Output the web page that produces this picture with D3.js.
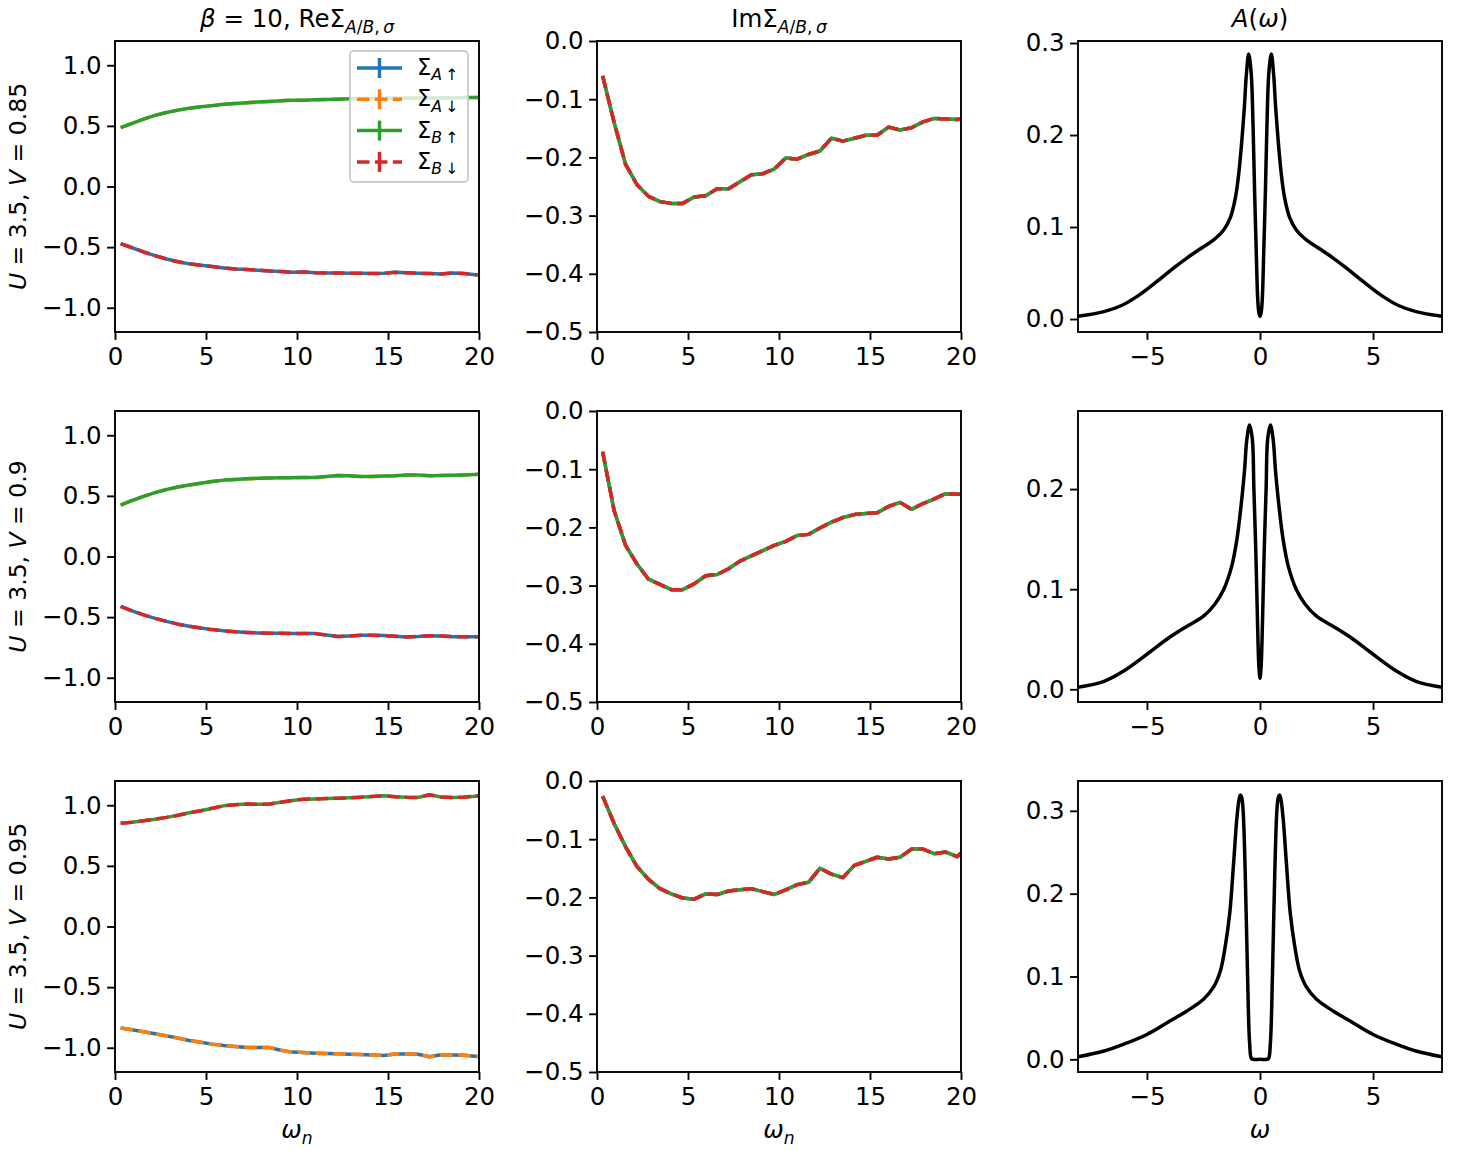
<!DOCTYPE html>
<html>
<head>
<meta charset="utf-8">
<script src="https://cdn.jsdelivr.net/npm/d3@7"></script>
<style>
  body { margin: 0; background: #fff; }
  svg { display: block; font-family: "DejaVu Sans", sans-serif; }
</style>
</head>
<body>
<svg id="fig" width="1457" height="1151"></svg>
<script>
// Matsubara frequencies, beta = 10
const omegaN = [0.31, 0.94, 1.57, 2.20, 2.83, 3.46, 4.08, 4.71, 5.34, 5.97, 6.60, 7.23, 7.85, 8.48, 9.11, 9.74,
  10.37, 11.00, 11.62, 12.25, 12.88, 13.51, 14.14, 14.77, 15.39, 16.02, 16.65, 17.28, 17.91, 18.54, 19.16, 19.79, 20.42]

// Re Sigma, upper and lower branches per row
const reHi1 = [0.485, 0.521, 0.556, 0.587, 0.610, 0.630, 0.645, 0.657, 0.667, 0.678, 0.684, 0.690, 0.697, 0.701, 0.707, 0.712,
  0.711, 0.715, 0.718, 0.720, 0.723, 0.726, 0.724, 0.727, 0.729, 0.727, 0.730, 0.729, 0.731, 0.730, 0.733, 0.734, 0.734]
const reLo1 = [-0.471, -0.505, -0.540, -0.570, -0.598, -0.620, -0.638, -0.650, -0.660, -0.672, -0.680, -0.684, -0.690, -0.697, -0.702, -0.708,
  -0.706, -0.711, -0.713, -0.714, -0.716, -0.715, -0.718, -0.716, -0.708, -0.712, -0.716, -0.718, -0.722, -0.713, -0.718, -0.727, -0.730]
const reHi2 = [0.424, 0.462, 0.496, 0.527, 0.553, 0.573, 0.590, 0.604, 0.618, 0.630, 0.636, 0.641, 0.645, 0.647, 0.649, 0.650,
  0.652, 0.651, 0.660, 0.668, 0.665, 0.660, 0.660, 0.664, 0.666, 0.673, 0.672, 0.665, 0.668, 0.670, 0.673, 0.677, 0.678]
const reLo2 = [-0.411, -0.448, -0.482, -0.510, -0.535, -0.558, -0.575, -0.590, -0.603, -0.613, -0.620, -0.626, -0.630, -0.633, -0.634, -0.635,
  -0.636, -0.636, -0.648, -0.660, -0.655, -0.650, -0.650, -0.652, -0.658, -0.664, -0.660, -0.653, -0.656, -0.661, -0.661, -0.661, -0.665]
const reHi3 = [0.851, 0.860, 0.872, 0.885, 0.900, 0.918, 0.938, 0.955, 0.975, 0.995, 1.004, 1.010, 1.008, 1.010, 1.025, 1.040,
  1.050, 1.052, 1.055, 1.058, 1.062, 1.066, 1.072, 1.079, 1.070, 1.065, 1.064, 1.086, 1.068, 1.064, 1.066, 1.075, 1.090]
const reLo3 = [-0.837, -0.852, -0.868, -0.885, -0.902, -0.920, -0.940, -0.955, -0.970, -0.982, -0.990, -0.997, -0.997, -0.998, -1.020, -1.036,
  -1.040, -1.045, -1.048, -1.050, -1.053, -1.056, -1.060, -1.063, -1.052, -1.052, -1.053, -1.074, -1.058, -1.059, -1.061, -1.070, -1.082]

// Im Sigma (all four components coincide)
const imS1 = [-0.060, -0.140, -0.212, -0.247, -0.267, -0.276, -0.279, -0.279, -0.268, -0.266, -0.254, -0.254, -0.242, -0.230, -0.228, -0.220,
  -0.201, -0.203, -0.195, -0.189, -0.167, -0.172, -0.167, -0.162, -0.162, -0.148, -0.153, -0.149, -0.139, -0.133, -0.134, -0.135, -0.132]
const imS2 = [-0.070, -0.171, -0.231, -0.263, -0.289, -0.298, -0.307, -0.307, -0.297, -0.283, -0.281, -0.271, -0.258, -0.249, -0.240, -0.231,
  -0.224, -0.214, -0.212, -0.201, -0.191, -0.183, -0.178, -0.176, -0.175, -0.164, -0.157, -0.169, -0.159, -0.151, -0.142, -0.143, -0.143]
const imS3 = [-0.026, -0.073, -0.113, -0.147, -0.169, -0.185, -0.194, -0.201, -0.203, -0.194, -0.195, -0.189, -0.187, -0.185, -0.190, -0.195,
  -0.187, -0.178, -0.174, -0.150, -0.160, -0.166, -0.145, -0.138, -0.131, -0.134, -0.131, -0.117, -0.117, -0.125, -0.122, -0.130, -0.112]

// spectral functions A(omega)
const aW1 = [-8.05, -6.9, -6.1, -5.35, -4.6, -3.9, -3.25, -2.6, -2.05, -1.6, -1.3, -1.08, -0.94, -0.8, -0.69, -0.6, -0.5, -0.39, -0.31, -0.24,
  -0.16, -0.1, -0.05, 0, 0.05, 0.1, 0.16, 0.24, 0.31, 0.39, 0.5, 0.6, 0.69, 0.8, 0.94, 1.08, 1.3, 1.6, 2.05, 2.6, 3.25, 3.9, 4.6, 5.35, 6.1, 6.9, 8.05]
const aV1 = [0.003, 0.008, 0.015, 0.026, 0.040, 0.054, 0.066, 0.077, 0.086, 0.097, 0.111, 0.133, 0.158, 0.195, 0.231, 0.267, 0.288, 0.267, 0.213, 0.140,
  0.068, 0.021, 0.007, 0.003, 0.007, 0.021, 0.068, 0.140, 0.213, 0.267, 0.288, 0.267, 0.231, 0.195, 0.158, 0.133, 0.111, 0.097, 0.086, 0.077, 0.066, 0.054, 0.040, 0.026, 0.015, 0.008, 0.003]
const aW2 = [-8.05, -6.9, -6.05, -5.0, -4.0, -3.3, -2.5, -2.0, -1.6, -1.25, -1.02, -0.84, -0.69, -0.58, -0.46, -0.34, -0.27, -0.18, -0.11, -0.05, 0,
  0.05, 0.11, 0.18, 0.27, 0.34, 0.46, 0.58, 0.69, 0.84, 1.02, 1.25, 1.6, 2.0, 2.5, 3.3, 4.0, 5.0, 6.05, 6.9, 8.05]
const aV2 = [0.002, 0.008, 0.018, 0.035, 0.052, 0.062, 0.073, 0.085, 0.100, 0.123, 0.150, 0.183, 0.217, 0.250, 0.264, 0.250, 0.200, 0.133, 0.067, 0.023, 0.011,
  0.023, 0.067, 0.133, 0.200, 0.250, 0.264, 0.250, 0.217, 0.183, 0.150, 0.123, 0.100, 0.085, 0.073, 0.062, 0.052, 0.035, 0.018, 0.008, 0.002]
const aW3 = [-8.05, -6.9, -6.05, -5.0, -4.0, -3.25, -2.5, -2.05, -1.75, -1.54, -1.34, -1.17, -1.02, -0.93, -0.87, -0.81, -0.75, -0.65, -0.55, -0.46, -0.38, -0.3, 0,
  0.3, 0.38, 0.46, 0.55, 0.65, 0.75, 0.81, 0.87, 0.93, 1.02, 1.17, 1.34, 1.54, 1.75, 2.05, 2.5, 3.25, 4.0, 5.0, 6.05, 6.9, 8.05]
const aV3 = [0.003, 0.010, 0.018, 0.030, 0.046, 0.058, 0.0725, 0.0875, 0.107, 0.136, 0.176, 0.236, 0.292, 0.313, 0.319, 0.316, 0.302, 0.221, 0.101, 0.020, 0.001, 0, 0,
  0, 0.001, 0.020, 0.101, 0.221, 0.302, 0.316, 0.319, 0.313, 0.292, 0.236, 0.176, 0.136, 0.107, 0.0875, 0.0725, 0.058, 0.046, 0.030, 0.018, 0.010, 0.003]

// row parameters and series names
const rowU = ['3.5', '3.5', '3.5']
const rowV = ['0.85', '0.9', '0.95']
const seriesSite = ['A', 'A', 'B', 'B']
const seriesSpin = ['\u2191', '\u2193', '\u2191', '\u2193']

// which branch each series follows, per row
const reRows = [
  [reLo1, reHi1, reHi1, reLo1],
  [reLo2, reHi2, reHi2, reLo2],
  [reLo3, reLo3, reHi3, reHi3]
]
const imRows = [imS1, imS2, imS3]
const aRows = [[aW1, aV1], [aW2, aV2], [aW3, aV3]]

// tick values
const reTicks = [-1, -0.5, 0, 0.5, 1]
const imTicks = [-0.5, -0.4, -0.3, -0.2, -0.1, 0]
const aTicks = [[0, 0.1, 0.2, 0.3], [0, 0.1, 0.2], [0, 0.1, 0.2, 0.3]]
const wnTicks = [0, 5, 10, 15, 20]
const wTicks = [-5, 0, 5]

const colors = ['#1f77b4', '#ff7f0e', '#2ca02c', '#d62728']
const dashed = [false, true, false, true]

const colX = [115, 597, 1078], rowY = [41, 411, 781]
const W = 364, H = 291
const FS = 24.5, YL_FS = 23.5, LEG_FS = 22.5, TICK = 7.9, PAD = 7.4, LW = 3.5, DASH = '12.5,5.4'
const aDomains = [[-0.0141, 0.3022], [-0.0127, 0.278], [-0.0153, 0.336]]

const svg = d3.select('#fig')

// mathtext-like label: parts of {t, i (italic), sub}
function mathText(sel, parts, size) {
    const t = sel.append('text').attr('font-size', size)
    let shift = 0
    parts.forEach(p => {
        const s = t.append('tspan').text(p.t)
        if (p.i) s.attr('font-style', 'italic')
        const want = p.sub ? size * 0.24 : 0
        if (p.sub) s.attr('font-size', size * 0.7)
        if (want !== shift) { s.attr('dy', want - shift); shift = want }
    })
    return t
}

function panel(r, c) {
    const g = svg.append('g').attr('transform', `translate(${colX[c]}, ${rowY[r]})`)
    const id = `clip-${r}-${c}`
    g.append('clipPath').attr('id', id).append('rect').attr('width', W).attr('height', H)

    let x, y, xt, yt
    if (c < 2) {
        x = d3.scaleLinear().domain([0, 20]).range([0, W])
        xt = wnTicks
    } else {
        x = d3.scaleLinear().domain([-8.05, 8.05]).range([0, W])
        xt = wTicks
    }
    if (c === 0) { y = d3.scaleLinear().domain([-1.2, 1.2]).range([H, 0]); yt = reTicks }
    else if (c === 1) { y = d3.scaleLinear().domain([-0.5, 0]).range([H, 0]); yt = imTicks }
    else { y = d3.scaleLinear().domain(aDomains[r]).range([H, 0]); yt = aTicks[r] }

    const plot = g.append('g').attr('clip-path', `url(#${id})`)
    const line = d3.line().x(d => x(d[0])).y(d => y(d[1]))

    if (c < 2) {
        const rows = c === 0 ? reRows[r] : [imRows[r], imRows[r], imRows[r], imRows[r]]
        rows.forEach((vals, k) => {
            plot.append('path')
                .datum(d3.zip(omegaN, vals))
                .attr('fill', 'none')
                .attr('stroke', colors[k])
                .attr('stroke-width', LW)
                .attr('stroke-linejoin', 'round')
                .attr('stroke-dasharray', dashed[k] ? DASH : null)
                .attr('d', line)
        })
    } else {
        const aline = d3.line().x(d => x(d[0])).y(d => y(d[1])).curve(d3.curveCatmullRom.alpha(0.5))
        plot.append('path')
            .datum(d3.zip(aRows[r][0], aRows[r][1]))
            .attr('fill', 'none')
            .attr('stroke', '#000')
            .attr('stroke-width', LW)
            .attr('stroke-linejoin', 'round')
            .attr('d', aline)
    }

    const xAxis = d3.axisBottom(x).tickValues(xt).tickSizeInner(TICK).tickSizeOuter(0).tickPadding(PAD)
        .tickFormat(d3.format('d'))
    const yAxis = d3.axisLeft(y).tickValues(yt).tickSizeInner(TICK).tickSizeOuter(0).tickPadding(5.5)
        .tickFormat(d3.format('.1f'))

    const gx = g.append('g').attr('transform', `translate(0, ${H})`).call(xAxis)
    const gy = g.append('g').call(yAxis)
    ;[gx, gy].forEach(a => {
        a.select('.domain').remove()
        a.selectAll('line').attr('stroke', '#000').attr('stroke-width', 1.9)
        a.selectAll('text').attr('font-size', FS).attr('font-family', '"DejaVu Sans", sans-serif').attr('fill', '#000')
    })

    g.append('rect').attr('width', W).attr('height', H)
        .attr('fill', 'none').attr('stroke', '#000').attr('stroke-width', 1.9)

    return g
}

for (let r = 0; r < 3; r++) {
    for (let c = 0; c < 3; c++) panel(r, c)
    mathText(svg.append('g').attr('transform', `translate(26, ${rowY[r] + H / 2}) rotate(-90)`),
        [{ t: 'U', i: true }, { t: ` = ${rowU[r]}, ` }, { t: 'V', i: true }, { t: ` = ${rowV[r]}` }], YL_FS)
        .attr('text-anchor', 'middle')
}

// column titles
mathText(svg.append('g').attr('transform', `translate(${colX[0] + W / 2}, 27)`),
    [{ t: '\u03b2', i: true }, { t: ' = 10, Re\u03a3' }, { t: 'A', i: true, sub: true }, { t: '/', sub: true },
     { t: 'B', i: true, sub: true }, { t: ',\u2009', sub: true }, { t: '\u03c3', i: true, sub: true }], FS)
    .attr('text-anchor', 'middle')
mathText(svg.append('g').attr('transform', `translate(${colX[1] + W / 2}, 27)`),
    [{ t: 'Im\u03a3' }, { t: 'A', i: true, sub: true }, { t: '/', sub: true },
     { t: 'B', i: true, sub: true }, { t: ',\u2009', sub: true }, { t: '\u03c3', i: true, sub: true }], FS)
    .attr('text-anchor', 'middle')
mathText(svg.append('g').attr('transform', `translate(${colX[2] + W / 2}, 27)`),
    [{ t: 'A', i: true }, { t: '(' }, { t: '\u03c9', i: true }, { t: ')' }], FS)
    .attr('text-anchor', 'middle')

// x labels
for (let c = 0; c < 2; c++) {
    mathText(svg.append('g').attr('transform', `translate(${colX[c] + W / 2}, 1138)`),
        [{ t: '\u03c9', i: true }, { t: 'n', i: true, sub: true }], FS).attr('text-anchor', 'middle')
}
mathText(svg.append('g').attr('transform', `translate(${colX[2] + W / 2}, 1138)`),
    [{ t: '\u03c9', i: true }], FS).attr('text-anchor', 'middle')

// legend in the first panel
const leg = svg.append('g').attr('transform', 'translate(350, 51)')
leg.append('rect').attr('width', 118).attr('height', 131).attr('rx', 4)
    .attr('fill', '#fff').attr('fill-opacity', 0.8).attr('stroke', '#cccccc').attr('stroke-width', 1.8)
seriesSite.forEach((s, k) => {
    const yy = 17 + k * 31.3
    const e = leg.append('g').attr('transform', `translate(0, ${yy})`)
    e.append('line').attr('x1', 7).attr('x2', 52).attr('y1', 0).attr('y2', 0)
        .attr('stroke', colors[k]).attr('stroke-width', LW)
        .attr('stroke-dasharray', dashed[k] ? DASH : null)
    e.append('line').attr('x1', 29.5).attr('x2', 29.5).attr('y1', -10).attr('y2', 10)
        .attr('stroke', colors[k]).attr('stroke-width', LW)
    mathText(e.append('g').attr('transform', 'translate(67, 7)'),
        [{ t: '\u03a3' }, { t: s, i: true, sub: true }, { t: '\u2009' + seriesSpin[k], sub: true }], LEG_FS)
})
</script>
</body>
</html>
